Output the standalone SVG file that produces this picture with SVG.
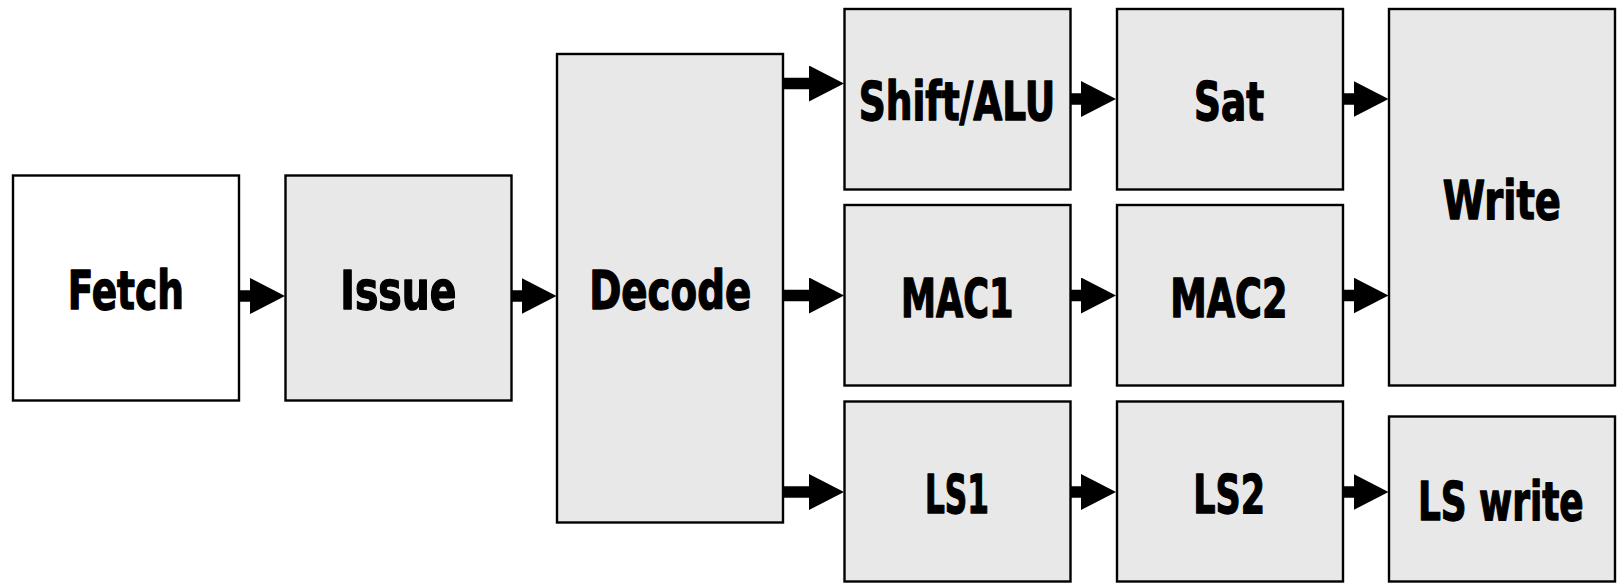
<svg xmlns="http://www.w3.org/2000/svg" width="1621" height="583" viewBox="0 0 1621 583">
<style>
.box{fill:#e8e8e8;stroke:#000;stroke-width:2.4}
.white{fill:#ffffff}
.lbl{font-family:"Liberation Sans Narrow","DejaVu Sans Condensed","Liberation Sans",sans-serif;font-weight:bold;font-size:53px;fill:#000;stroke:#000;stroke-width:1.3;stroke-linejoin:round;text-anchor:middle}
.arr{stroke:#000;stroke-width:11.5;fill:none;marker-end:url(#head)}
</style>
<defs>
<marker id="head" markerUnits="userSpaceOnUse" markerWidth="35" markerHeight="36" refX="0.5" refY="18" orient="auto" viewBox="0 0 35 36">
<path d="M0,0 L35,18 L0,36 Z" fill="#000"/>
</marker>
</defs>
<g id="connectors">
<line class="arr" x1="239" y1="296" x2="250.5" y2="296"/>
<line class="arr" x1="511.5" y1="296" x2="522" y2="296"/>
<line class="arr" x1="783" y1="83.5" x2="809.5" y2="83.5"/>
<line class="arr" x1="783" y1="295.5" x2="809.5" y2="295.5"/>
<line class="arr" x1="783" y1="492" x2="809.5" y2="492"/>
<line class="arr" x1="1070.5" y1="99" x2="1081.5" y2="99"/>
<line class="arr" x1="1070.5" y1="295.5" x2="1081.5" y2="295.5"/>
<line class="arr" x1="1070.5" y1="492" x2="1081.5" y2="492"/>
<line class="arr" x1="1343" y1="99" x2="1354" y2="99"/>
<line class="arr" x1="1343" y1="295.5" x2="1354" y2="295.5"/>
<line class="arr" x1="1343" y1="492" x2="1354" y2="492"/>
</g>
<g id="fetch"><rect class="box white" x="13" y="175.5" width="226" height="225"/><text class="lbl" x="125.8" y="309" textLength="116" lengthAdjust="spacingAndGlyphs">Fetch</text></g>
<g id="issue"><rect class="box" x="285.5" y="175.5" width="226" height="225"/><text class="lbl" x="398.3" y="309" textLength="116" lengthAdjust="spacingAndGlyphs">Issue</text></g>
<g id="decode"><rect class="box" x="557" y="54" width="226" height="468.5"/><text class="lbl" x="670.2" y="309" textLength="162" lengthAdjust="spacingAndGlyphs">Decode</text></g>
<g id="shiftalu"><rect class="box" x="844.5" y="9" width="226" height="180.5"/><text class="lbl" x="957" y="120" textLength="196.5" lengthAdjust="spacingAndGlyphs">Shift/ALU</text></g>
<g id="mac1"><rect class="box" x="844.5" y="205" width="226" height="180.5"/><text class="lbl" x="957.2" y="317" textLength="112.5" lengthAdjust="spacingAndGlyphs">MAC1</text></g>
<g id="ls1"><rect class="box" x="844.5" y="401.5" width="226" height="180"/><text class="lbl" x="957" y="513.3" textLength="64" lengthAdjust="spacingAndGlyphs">LS1</text></g>
<g id="sat"><rect class="box" x="1117" y="9" width="226" height="180.5"/><text class="lbl" x="1229" y="120" textLength="70" lengthAdjust="spacingAndGlyphs">Sat</text></g>
<g id="mac2"><rect class="box" x="1117" y="205" width="226" height="180.5"/><text class="lbl" x="1228.8" y="317" textLength="117.3" lengthAdjust="spacingAndGlyphs">MAC2</text></g>
<g id="ls2"><rect class="box" x="1117" y="401.5" width="226" height="180"/><text class="lbl" x="1229.2" y="513.3" textLength="71.7" lengthAdjust="spacingAndGlyphs">LS2</text></g>
<g id="write"><rect class="box" x="1389" y="9" width="226" height="376.5"/><text class="lbl" x="1501.8" y="219" textLength="118" lengthAdjust="spacingAndGlyphs">Write</text></g>
<g id="lswrite"><rect class="box" x="1389" y="416.5" width="226" height="165"/><text class="lbl" transform="translate(1500.8,520) scale(0.76,1)" x="0" y="0" textLength="218" lengthAdjust="spacingAndGlyphs">LS write</text></g>
</svg>
